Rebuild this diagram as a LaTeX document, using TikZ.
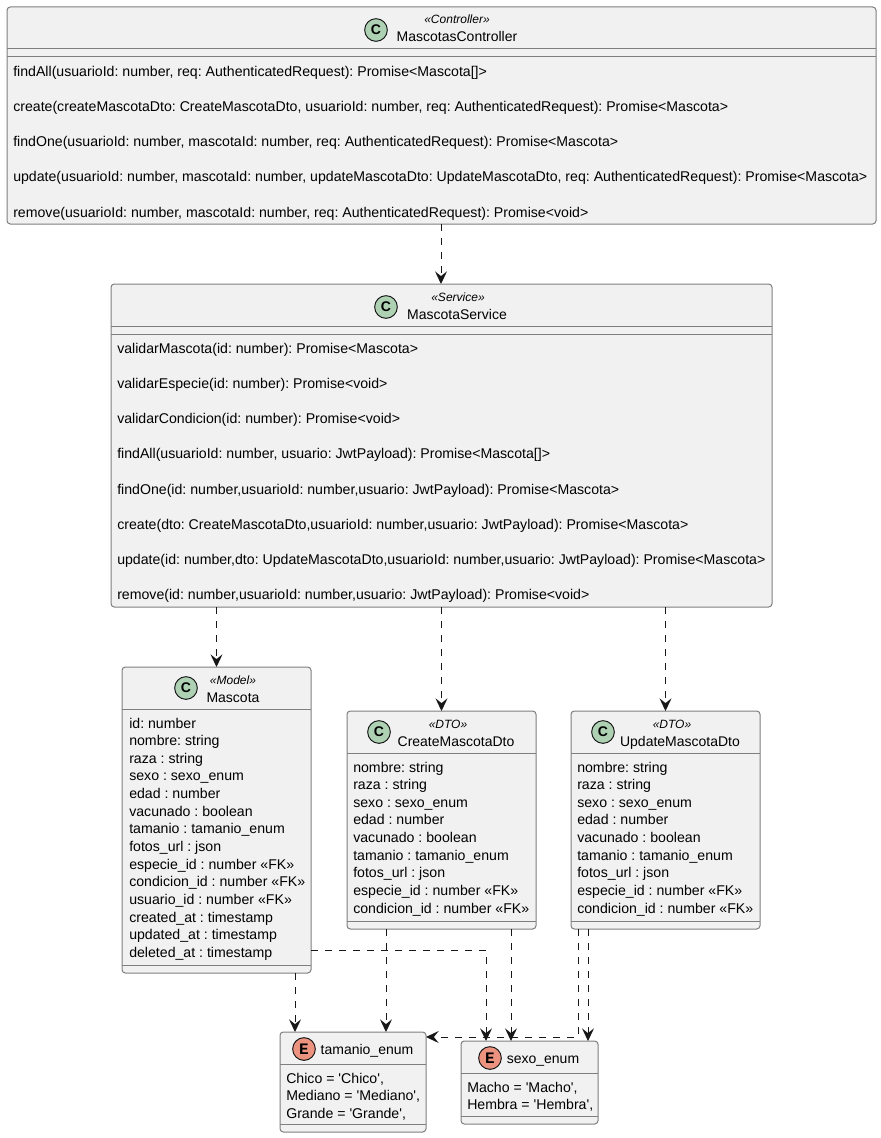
\documentclass[tikz,border=0pt]{standalone}
\usepackage{fontspec}
\setmainfont{Liberation Sans}[Ligatures=TeXOff]
\newfontfamily\spotfont{Liberation Mono}
\usetikzlibrary{arrows.meta}
\definecolor{boxfill}{HTML}{F1F1F1}
\definecolor{boxline}{HTML}{7F7F7F}
\definecolor{linecol}{HTML}{181818}
\definecolor{classspot}{HTML}{ADD1B2}
\definecolor{enumspot}{HTML}{EB937F}
\tikzset{
  umlbox/.style={draw=boxline,fill=boxfill,line width=0.75pt,rounded corners=2.5pt,inner sep=0pt,outer sep=0pt},
  sepline/.style={draw=boxline,line width=0.75pt},
  dep/.style={draw=linecol,line width=0.75pt,dash pattern=on 5.25pt off 5.25pt,-{Stealth[length=9.5pt,width=9pt,inset=3.6pt]}},
  spot/.style={circle,draw=linecol,line width=0.75pt,minimum size=17pt,inner sep=0pt},
  classspot/.style={spot,fill=classspot,font=\bfseries\fontsize{10.5}{12}\selectfont},
  enumspot/.style={spot,fill=enumspot,font=\spotfont\bfseries\fontsize{12}{12}\selectfont},
  member/.style={anchor=base west,inner sep=0pt,font=\frenchspacing\fontsize{10.6}{12}\selectfont},
  title/.style={anchor=base,inner sep=0pt,font=\frenchspacing\fontsize{10.5}{12}\selectfont},
  stereo/.style={anchor=base,inner sep=0pt,font=\itshape\fontsize{9}{11}\selectfont},
}
\newcommand{\umlnode}[5]{\node[umlbox,minimum width={(#4-#2)*0.75pt},minimum height={(#5-#3)*0.75pt}] (#1) at ({(#2+#4)/2},{(#3+#5)/2}) {};}
\begin{document}
\begin{tikzpicture}[x=0.75pt,y=-0.75pt]
\useasboundingbox (0,0) rectangle (881,1138);

% boxes
\umlnode{ctrl}{7}{7}{876}{224}
\umlnode{service}{111}{284}{772}{607}
\umlnode{mascota}{122}{667}{311}{973}
\umlnode{createdto}{347}{711}{536}{929}
\umlnode{updatedto}{571}{711}{760}{929}
\umlnode{tamanio}{280}{1032}{426}{1132}
\umlnode{sexo}{461}{1041}{598}{1124}

% compartment lines
\foreach \b/\y in {ctrl/49,ctrl/57,service/326,service/334,mascota/709,mascota/965,createdto/753,createdto/921,updatedto/753,updatedto/921,tamanio/1064,tamanio/1124,sexo/1073,sexo/1116}
  \draw[sepline] (\b.west |- 0,\y) -- (\b.east |- 0,\y);

% headers
\node[classspot] (ctrlspot) at (376,30) {C};
\node[stereo] (ctrlstereo) at (457,24) {«Controller»};
\node[title] (ctrlname) at (457,42) {MascotasController};
\node[classspot] (servicespot) at (386,307) {C};
\node[stereo] (servicestereo) at (458,301) {«Service»};
\node[title] (servicename) at (457,319) {MascotaService};
\node[classspot] (mascotaspot) at (186,688) {C};
\node[stereo] (mascotastereo) at (233,684) {«Model»};
\node[title] (mascotaname) at (233,702) {Mascota};
\node[classspot] (createspot) at (379,732) {C};
\node[stereo] (createstereo) at (448,728) {«DTO»};
\node[title] (createname) at (456,746) {CreateMascotaDto};
\node[classspot] (updatespot) at (603,732) {C};
\node[stereo] (updatestereo) at (672,728) {«DTO»};
\node[title] (updatename) at (680,746) {UpdateMascotaDto};
\node[enumspot] (tamaniospot) at (304,1049) {E};
\node[title] (tamanioname) at (367,1054) {tamanio\_enum};
\node[enumspot] (sexospot) at (490,1058) {E};
\node[title] (sexoname) at (543,1063) {sexo\_enum};

% members
\foreach \t [count=\i] in {
  {findAll(usuarioId: number, req: AuthenticatedRequest): Promise<Mascota[]>},
  {create(createMascotaDto: CreateMascotaDto, usuarioId: number, req: AuthenticatedRequest): Promise<Mascota>},
  {findOne(usuarioId: number, mascotaId: number, req: AuthenticatedRequest): Promise<Mascota>},
  {update(usuarioId: number, mascotaId: number, updateMascotaDto: UpdateMascotaDto, req: AuthenticatedRequest): Promise<Mascota>},
  {remove(usuarioId: number, mascotaId: number, req: AuthenticatedRequest): Promise<void>}}
  \node[member] (ctrlm\i) at (13,{76+35.25*(\i-1)}) {\t};
\foreach \t [count=\i] in {
  {validarMascota(id: number): Promise<Mascota>},
  {validarEspecie(id: number): Promise<void>},
  {validarCondicion(id: number): Promise<void>},
  {findAll(usuarioId: number, usuario: JwtPayload): Promise<Mascota[]>},
  {findOne(id: number,usuarioId: number,usuario: JwtPayload): Promise<Mascota>},
  {create(dto: CreateMascotaDto,usuarioId: number,usuario: JwtPayload): Promise<Mascota>},
  {update(id: number,dto: UpdateMascotaDto,usuarioId: number,usuario: JwtPayload): Promise<Mascota>},
  {remove(id: number,usuarioId: number,usuario: JwtPayload): Promise<void>}}
  \node[member] (servicem\i) at (117,{353+35.25*(\i-1)}) {\t};
\foreach \t [count=\i] in {
  {id: number},{nombre: string},{raza : string},{sexo : sexo\_enum},{edad : number},
  {vacunado : boolean},{tamanio : tamanio\_enum},{fotos\_url : json},
  {especie\_id : number «FK»},{condicion\_id : number «FK»},{usuario\_id : number «FK»},
  {created\_at : timestamp},{updated\_at : timestamp},{deleted\_at : timestamp}}
  \node[member] (mascotam\i) at (129,{728+17.66*(\i-1)}) {\t};
\foreach \t [count=\i] in {
  {nombre: string},{raza : string},{sexo : sexo\_enum},{edad : number},
  {vacunado : boolean},{tamanio : tamanio\_enum},{fotos\_url : json},
  {especie\_id : number «FK»},{condicion\_id : number «FK»}}{
  \node[member] (createm\i) at (353,{772+17.66*(\i-1)}) {\t};
  \node[member] (updatem\i) at (577,{772+17.66*(\i-1)}) {\t};
}
\node[member] (tamaniom1) at (286,1083) {Chico = 'Chico',};
\node[member] (tamaniom2) at (286,1100.5) {Mediano = 'Mediano',};
\node[member] (tamaniom3) at (286,1118) {Grande = 'Grande',};
\node[member] (sexom1) at (467,1092) {Macho = 'Macho',};
\node[member] (sexom2) at (467,1109.5) {Hembra = 'Hembra',};

% dependencies
\draw[dep] (ctrl.south -| 441,0) -- (service.north -| 441,0);
\draw[dep] (service.south -| mascota.north) -- (mascota.north);
\draw[dep] (service.south -| createdto.north) -- (createdto.north);
\draw[dep] (service.south -| updatedto.north) -- (updatedto.north);
\draw[dep] (mascota.south -| 295,0) -- (tamanio.north -| 295,0);
\draw[dep] (mascota.east |- 0,950) -| (sexo.north -| 486,0);
\draw[dep] (createdto.south -| 386,0) -- (tamanio.north -| 386,0);
\draw[dep] (createdto.south -| 511,0) -- (sexo.north -| 511,0);
\draw[dep] (updatedto.south -| 578,0) |- (tamanio.east |- 0,1037);
\draw[dep] (updatedto.south -| 588,0) -- (sexo.north -| 588,0);
\end{tikzpicture}
\end{document}
